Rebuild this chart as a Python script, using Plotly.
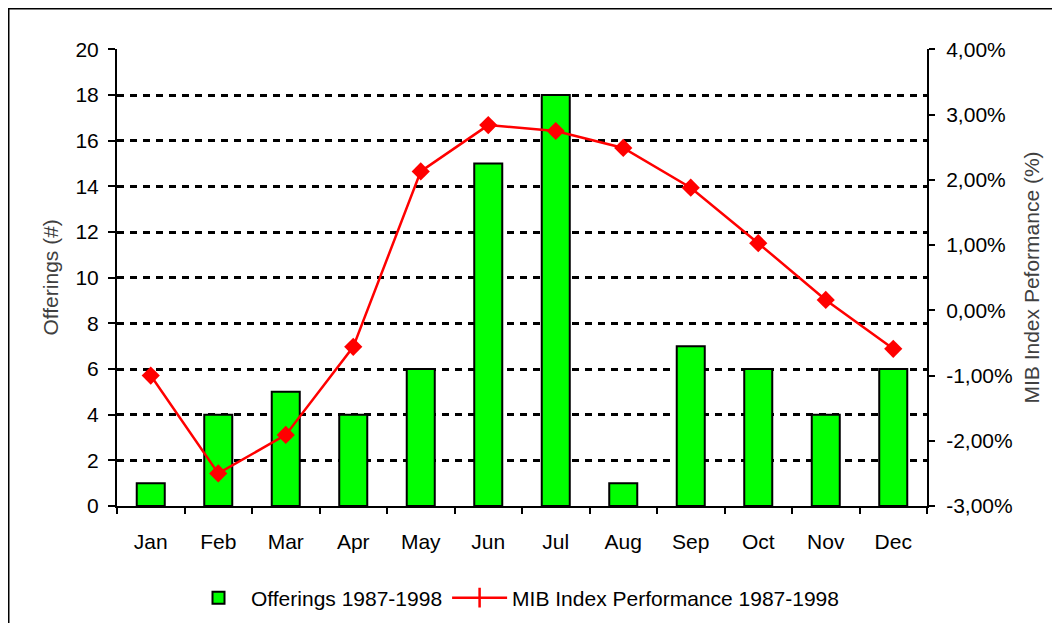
import plotly.graph_objects as go

months = ["Jan", "Feb", "Mar", "Apr", "May", "Jun", "Jul", "Aug", "Sep", "Oct", "Nov", "Dec"]
offerings = [1, 4, 5, 4, 6, 15, 18, 1, 7, 6, 4, 6]
mib_perf = [-1.00, -2.50, -1.91, -0.56, 2.13, 2.84, 2.75, 2.49, 1.88, 1.03, 0.16, -0.59]

left_ticks = [0, 2, 4, 6, 8, 10, 12, 14, 16, 18, 20]
right_ticks = [-3, -2, -1, 0, 1, 2, 3, 4]
right_tick_labels = ["-3,00%", "-2,00%", "-1,00%", "0,00%", "1,00%", "2,00%", "3,00%", "4,00%"]

bar_name = "Offerings 1987-1998"
line_name = "MIB Index Performance 1987-1998"
left_title = "Offerings (#)"
right_title = "MIB Index Peformance (%)"

FONT = "Liberation Sans, Arial, sans-serif"
RED = "#FF0000"
GREEN = "#00FF00"

# page body has an 8px margin; figure sized to fit the 1060x623 window
W, H = 1052, 615
L, R, T, B = 109, 133, 41, 117
pw, ph = W - L - R, H - T - B

def px_x(fx):
    return (fx - L) / pw

def px_y(fy):
    return (H - B - fy) / ph

eps = 1e-3
fig = go.Figure()
fig.add_trace(go.Bar(
    x=months, y=offerings, name=bar_name,
    marker=dict(color=GREEN, line=dict(color="black", width=2)),
    yaxis="y", xaxis="x",
))
fig.add_trace(go.Scatter(
    x=months, y=mib_perf, name=line_name, mode="lines+markers",
    line=dict(color=RED, width=2.5),
    marker=dict(symbol="diamond", size=14, color=RED),
    yaxis="y2", xaxis="x", showlegend=False,
))
# legend entry mimicking the reference's line-with-tick symbol
fig.add_trace(go.Scatter(
    x=[None], y=[None], name=line_name, mode="lines+markers",
    line=dict(color=RED, width=2.5),
    marker=dict(symbol="line-ns", size=14, color=RED, line=dict(color=RED, width=2.5)),
    yaxis="y2", xaxis="x",
))

fig.update_layout(
    width=W, height=H,
    margin=dict(l=L, r=R, t=T, b=B, autoexpand=False),
    paper_bgcolor="white", plot_bgcolor="white",
    font=dict(family=FONT, size=21, color="black"),
    bargap=0.585,
    showlegend=True,
    legend=dict(
        orientation="h", x=px_x(507), xanchor="center", y=px_y(590), yanchor="middle",
        font=dict(size=21), itemwidth=55, traceorder="normal",
        bgcolor="rgba(0,0,0,0)",
    ),
    xaxis=dict(
        type="category", range=[-0.5, 11.5],
        showline=True, linecolor="black", linewidth=2,
        ticks="outside", tickson="boundaries", ticklen=6, tickwidth=2, tickcolor="black",
        ticklabelstandoff=16,
        showgrid=False, zeroline=False,
        tickfont=dict(size=21),
    ),
    yaxis=dict(
        range=[0, 20 * (1 + eps)], tickvals=left_ticks,
        showline=True, linecolor="black", linewidth=2,
        ticks="outside", ticklen=7, tickwidth=2, tickcolor="black",
        ticklabelstandoff=5,
        showgrid=True, gridcolor="black", gridwidth=3, griddash="7px,6px",
        zeroline=False,
        tickfont=dict(size=21),
    ),
    yaxis2=dict(
        range=[-3, -3 + 7 * (1 + eps)], tickvals=right_ticks, ticktext=right_tick_labels,
        overlaying="y", side="right", anchor="x",
        showline=True, linecolor="black", linewidth=2,
        ticks="outside", ticklen=6, tickwidth=2, tickcolor="black",
        ticklabelstandoff=7,
        showgrid=False, zeroline=False,
        tickfont=dict(size=21),
    ),
    yaxis3=dict(
        range=[0, 20 * (1 + eps)], tickvals=left_ticks, overlaying="y", side="left", anchor="x",
        ticks="inside", ticklen=3, tickwidth=2, tickcolor="black",
        showticklabels=False, showgrid=False, zeroline=False, showline=False,
    ),
    yaxis4=dict(
        range=[-3, -3 + 7 * (1 + eps)], tickvals=right_ticks, overlaying="y", side="right", anchor="x",
        ticks="inside", ticklen=6, tickwidth=2, tickcolor="black",
        showticklabels=False, showgrid=False, zeroline=False, showline=False,
    ),
    annotations=[
        dict(text=left_title, xref="paper", yref="paper", x=px_x(42), y=0.5,
             textangle=-90, showarrow=False, xanchor="center", yanchor="middle",
             font=dict(size=21, color="#404040", family=FONT)),
        dict(text=right_title, xref="paper", yref="paper", x=px_x(1023), y=0.5,
             textangle=-90, showarrow=False, xanchor="center", yanchor="middle",
             font=dict(size=21, color="#404040", family=FONT)),
    ],
    shapes=[
        dict(type="rect", xref="paper", yref="paper",
             x0=px_x(0.5), x1=px_x(W + 20), y0=px_y(H + 20), y1=px_y(0.5),
             line=dict(color="black", width=2), fillcolor="rgba(0,0,0,0)", layer="above"),
    ],
)

fig.write_html("out.html")
